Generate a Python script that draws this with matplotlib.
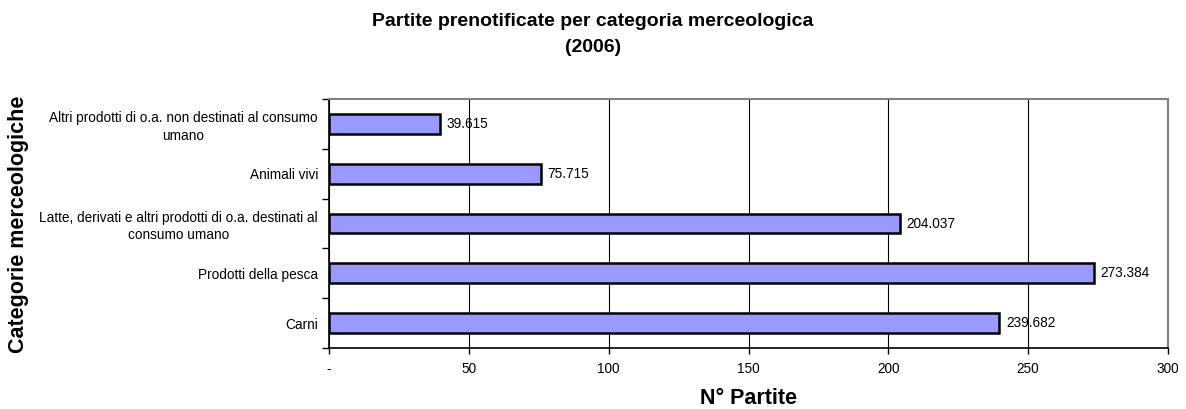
import matplotlib
matplotlib.use("Agg")
import matplotlib.pyplot as plt
import numpy as np

plt.rcParams['font.family'] = ['Liberation Sans', 'DejaVu Sans']

categories = [
    "Carni",
    "Prodotti della pesca",
    "Latte, derivati e altri prodotti di o.a. destinati al\nconsumo umano",
    "Animali vivi",
    "Altri prodotti di o.a. non destinati al consumo\numano",
]
values = [239.682, 273.384, 204.037, 75.715, 39.615]
xticks = [0, 50, 100, 150, 200, 250, 300]
xticklabels = ["-", "50", "100", "150", "200", "250", "300"]

fig = plt.figure(figsize=(11.86, 4.09), dpi=100)
ax = fig.add_axes([329/1186, 1-348/409, (1168-329)/1186, (348-99)/409])

y = np.arange(len(categories))
ax.barh(y, values, height=0.4, color="#9999FF", edgecolor="black", linewidth=1.8, zorder=3)

for yi, v in zip(y, values):
    ax.text(v + 2.5, yi, f"{v:.3f}", va="center", ha="left", fontsize=9.8, zorder=4)

ax.set_xlim(0, 300)
ax.set_ylim(-0.5, len(categories) - 0.5)

ax.set_xticks(xticks)
ax.set_xticklabels(xticklabels, fontsize=9.8)
ax.tick_params(axis="x", direction="out", length=4, pad=6, width=1)

ax.set_yticks(y)
ax.set_yticklabels(categories, fontsize=9.8, multialignment="center", linespacing=1.3)
ax.tick_params(axis="y", which="major", length=0, pad=8)
ax.set_yticks(np.arange(-0.5, len(categories)), minor=True)
ax.tick_params(axis="y", which="minor", direction="out", length=5, width=1)

ax.grid(axis="x", color="black", linewidth=0.8, zorder=0)
for s in ["top", "right"]:
    ax.spines[s].set_color("#808080")
    ax.spines[s].set_linewidth(1.5)
for s in ["left", "bottom"]:
    ax.spines[s].set_color("black")
    ax.spines[s].set_linewidth(1.2)

fig.text(0.5, 1-21/409, "Partite prenotificate per categoria merceologica", ha="center", va="center",
         fontsize=14, fontweight="bold")
fig.text(0.5, 1-48/409, "(2006)", ha="center", va="center", fontsize=14, fontweight="bold")

fig.text(749/1186, 1-398/409, "N° Partite", ha="center", va="center", fontsize=15.5, fontweight="bold")
fig.text(19/1186, 1-224/409, "Categorie merceologiche", ha="center", va="center", rotation=90,
         fontsize=15.5, fontweight="bold")

fig.savefig("out.png", dpi=100)
